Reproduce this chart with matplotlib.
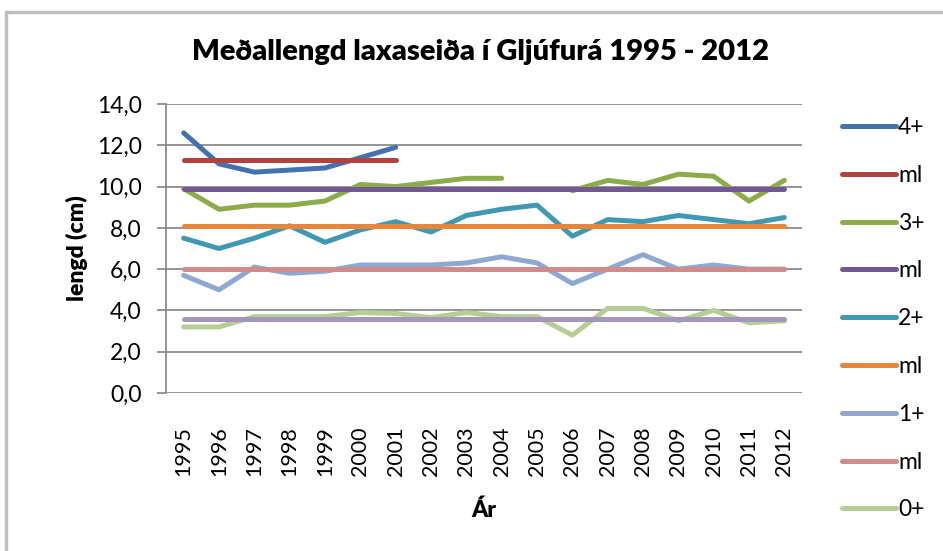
import numpy as np
import matplotlib.pyplot as plt
from matplotlib.patches import Rectangle

plt.rcParams['font.family'] = ['Lato', 'DejaVu Sans']

years = [str(y) for y in range(1995, 2013)]
nan = np.nan

s4 = [12.6, 11.1, 10.7, 10.8, 10.9, 11.4, 11.9] + [nan] * 11
ml4 = [11.3] * 7 + [nan] * 11
s3 = [9.9, 8.9, 9.1, 9.1, 9.3, 10.1, 10.0, 10.2, 10.4, 10.4, nan,
      9.8, 10.3, 10.1, 10.6, 10.5, 9.3, 10.3]
ml3 = [9.9] * 18
s2 = [7.5, 7.0, 7.5, 8.1, 7.3, 7.9, 8.3, 7.8, 8.6, 8.9, 9.1,
      7.6, 8.4, 8.3, 8.6, 8.4, 8.2, 8.5]
ml2 = [8.1] * 18
s1 = [5.7, 5.0, 6.1, 5.8, 5.9, 6.2, 6.2, 6.2, 6.3, 6.6, 6.3,
      5.3, 6.0, 6.7, 6.0, 6.2, 6.0, 6.0]
ml1 = [6.0] * 18
s0 = [3.2, 3.2, 3.7, 3.7, 3.7, 3.9, 3.85, 3.65, 3.9, 3.7, 3.7,
      2.8, 4.1, 4.1, 3.5, 4.0, 3.4, 3.5]
ml0 = [3.6] * 18

series = [s4, ml4, s3, ml3, s2, ml2, s1, ml1, s0, ml0]
labels = ['4+', 'ml', '3+', 'ml', '2+', 'ml', '1+', 'ml', '0+', 'ml']
colors = ['#4472AE', '#B3423E', '#8BAC49', '#735894', '#4099B3', '#E6853C',
          '#8EA8D1', '#D18B8B', '#B6CE95', '#A496BD']

fs = 16.5

fig = plt.figure(figsize=(9.43, 5.51), dpi=100)
fig.patches.append(Rectangle((6 / 943, -0.1), 1.2, 1 - 12 / 551 + 0.1,
                             transform=fig.transFigure, fill=False,
                             edgecolor='#BFBFBF', linewidth=2.5))
ax = fig.add_axes([166 / 943, 1 - 393 / 551, (802 - 166) / 943, (393 - 104) / 551])

x = np.arange(len(years))
handles = []
for vals, lab, col in zip(series, labels, colors):
    h, = ax.plot(x, vals, color=col, lw=3.6, label=lab,
                 solid_capstyle='round', solid_joinstyle='round')
    handles.append(h)

ax.set_xlim(-0.5, len(years) - 0.5)
ax.set_ylim(0, 14)
ax.set_yticks(np.arange(0, 15, 2))
ax.set_yticklabels([f'{v:.1f}'.replace('.', ',') for v in np.arange(0, 15, 2)])
ax.set_xticks(x)
ax.set_xticklabels(years, rotation=90)
ax.grid(axis='y', color='#8C8C8C', lw=1.3)
ax.set_axisbelow(True)
for sp in ['top', 'right', 'bottom']:
    ax.spines[sp].set_visible(False)
ax.spines['left'].set_color('#8C8C8C')
ax.spines['left'].set_linewidth(1.3)
ax.tick_params(axis='y', length=6.5, color='#8C8C8C', width=1.3, labelsize=fs, pad=11)
ax.tick_params(axis='x', length=0, labelsize=15.5, pad=24)

ax.set_ylabel('lengd (cm)', fontsize=fs, fontweight='heavy', labelpad=6)
ax.set_xlabel('Ár', fontsize=fs, fontweight='heavy', labelpad=17)
fig.text(481 / 943, 1 - 52 / 551, 'Meðallengd laxaseiða í Gljúfurá 1995 - 2012',
         ha='center', va='center', fontsize=21, fontweight='heavy')

fig.legend(handles[:9], labels[:9], loc='upper left',
           bbox_to_anchor=(842 / 943, 1 - 117 / 551), frameon=False,
           fontsize=fs, handlelength=2.35, handletextpad=0.1,
           labelspacing=1.17, borderpad=0, borderaxespad=0)

fig.savefig('out.png', dpi=100)
